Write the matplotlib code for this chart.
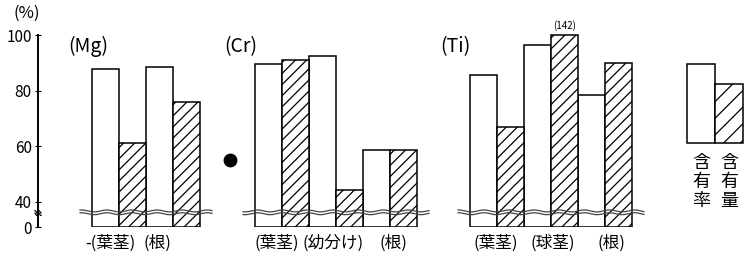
import matplotlib.pyplot as plt
import numpy as np

plt.rcParams['font.family'] = ['Noto Sans CJK JP', 'DejaVu Sans']
plt.rcParams['hatch.linewidth'] = 0.9

groups = ['(Mg)', '(Cr)', '(Ti)']
parts = [['-(葉茎)', '(根)'],
         ['(葉茎)', '(幼分け)', '(根)'],
         ['(葉茎)', '(球茎)', '(根)']]
rate = [[88, 88.5], [89.5, 92.5, 58.5], [85.5, 96.5, 78.5]]      # 含有率
amount = [[61, 76], [91, 44, 58.5], [67, 100, 90]]               # 含有量
ti_over = '(142)'
yticks = [0, 40, 60, 80, 100]

BRK = 35.0
def fwd(v):
    v = np.asarray(v, dtype=float)
    return np.where(v < BRK, v * 0.12, BRK * 0.12 + (v - BRK))
def inv(u):
    u = np.asarray(u, dtype=float)
    return np.where(u < BRK * 0.12, u / 0.12, u - BRK * 0.12 + BRK)

fig = plt.figure(figsize=(7.49, 2.6), dpi=100)
ytop = 110
h_px = float(fwd(ytop)) * 2.77
ax = fig.add_axes([0, 33 / 260, 1, h_px / 260])
ax.set_yscale('function', functions=(fwd, inv))
ax.set_xlim(0, 749)
ax.set_ylim(0, ytop)

for s in ['top', 'right', 'bottom']:
    ax.spines[s].set_visible(False)
ax.spines['left'].set_position(('data', 38))
ax.spines['left'].set_bounds(0, 100)
ax.spines['left'].set_linewidth(1.4)
ax.set_yticks(yticks)
ax.set_yticklabels([str(t) for t in yticks], fontsize=11)
ax.tick_params(axis='y', direction='inout', length=5, pad=2)
ax.set_xticks([])

group_x0 = [92, 255, 470]
title_x = [68, 224, 440]
label_x = [[110, 157], [277, 333, 393], [496, 553, 611]]
bw = 27
for g, x0 in enumerate(group_x0):
    n = len(rate[g])
    xs_r = x0 + np.arange(n) * 2 * bw + bw / 2
    xs_a = xs_r + bw
    ax.bar(xs_r, rate[g], width=bw, color='white', edgecolor='black', linewidth=1.1, zorder=2)
    ax.bar(xs_a, amount[g], width=bw, color='white', edgecolor='black', hatch='///',
           linewidth=1.1, zorder=2)
    # wavy break lines
    xw = np.linspace(x0 - 12, x0 + 2 * n * bw + 12, 200)
    for off in (36.6, 35.6):
        ax.plot(xw, off + 0.35 * np.sin(xw / 4.0), color='#444', lw=0.9, zorder=3)
    ax.text(title_x[g], 96, groups[g], fontsize=14, va='center', ha='left')
    for i, lab in enumerate(parts[g]):
        ax.annotate(lab, (label_x[g][i], 17), xycoords=('data', 'figure pixels'),
                    ha='center', va='center', fontsize=12, annotation_clip=False)

# label above the clipped Ti bar
ax.text(group_x0[2] + 3 * bw + bw / 2, 103.5, ti_over, fontsize=7, ha='center', va='center')

# axis break mark and unit
yb = np.linspace(-3, 3, 30)
for off in (36.3, 35.3):
    ax.plot(38 + yb, off + 0.4 * np.sin(yb * 1.6), color='black', lw=0.9, clip_on=False)
ax.text(27, 108, '(%)', fontsize=12, ha='center', va='center')

# stray dot
ax.scatter([230], [55], s=80, color='black', zorder=4)

# legend
ax.bar([701], [89.5 - 61], bottom=61, width=28, color='white', edgecolor='black', linewidth=1.1)
ax.bar([729], [82.5 - 61], bottom=61, width=28, color='white', edgecolor='black',
       hatch='//', linewidth=1.1)
ax.text(701, 57, '含\n有\n率', fontsize=13, ha='center', va='top', linespacing=1.05)
ax.text(729, 57, '含\n有\n量', fontsize=13, ha='center', va='top', linespacing=1.05)

fig.savefig('out.png', dpi=100)
